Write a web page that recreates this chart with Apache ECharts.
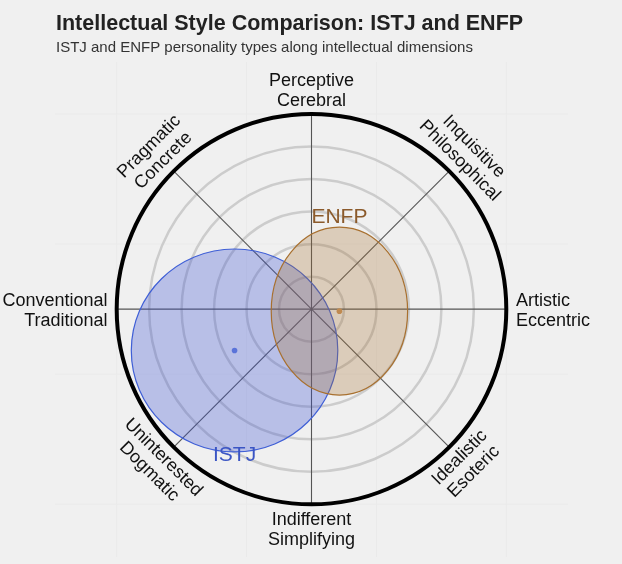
<!DOCTYPE html>
<html>
<head>
<meta charset="utf-8">
<script src="https://cdn.jsdelivr.net/npm/echarts@6/dist/echarts.min.js"></script>
<style>
html,body{margin:0;padding:0;background:#f0f0f0;}
#chart{width:622px;height:564px;}
</style>
</head>
<body>
<div id="chart"></div>
<script>
// ---- data ----
const titleText = 'Intellectual Style Comparison: ISTJ and ENFP';
const subtitleText = 'ISTJ and ENFP personality types along intellectual dimensions';
const axisLabels = ['Artistic\nEccentric', 'Inquisitive\nPhilosophical', 'Perceptive\nCerebral', 'Pragmatic\nConcrete',
                    'Conventional\nTraditional', 'Uninterested\nDogmatic', 'Indifferent\nSimplifying', 'Idealistic\nEsoteric'];
const axisAngles = [0, 45, 90, 135, 180, 225, 270, 315];
const ringRadii = [0.5, 1, 1.5, 2, 2.5];
const outerRadius = [3];
const panelBreaks = [-3, -1, 1, 3];
const types = ['ISTJ', 'ENFP'];
const centerX = [-1.185, 0.43];
const centerY = [-0.635, -0.03];
const spreadX = [1.59, 1.05];
const spreadY = [1.56, 1.29];

// ---- styles ----
const FONT = '"Liberation Sans", Arial, sans-serif';
const fills = ['rgba(57,80,213,0.30)', 'rgba(165,112,45,0.28)'];
const strokes = ['#3f5fd6', '#a8702f'];
const dotColors = ['#5a73d9', '#c08a50'];
const textColors = ['#3b55c4', '#8b5a2b'];
const X_MIN = -3.95, X_MAX = 3.95, Y_MIN = -3.81, Y_MAX = 3.8;

const chart = echarts.init(document.getElementById('chart'));

const option = {
  backgroundColor: '#f0f0f0',
  animation: false,
  title: {
    text: titleText,
    subtext: subtitleText,
    left: 51,
    top: 8,
    itemGap: 5,
    textStyle: { fontFamily: FONT, fontSize: 21.5, fontWeight: 'bold', color: '#222222' },
    subtextStyle: { fontFamily: FONT, fontSize: 15, color: '#333333' }
  },
  grid: { left: 55, right: 54, top: 62, bottom: 7 },
  xAxis: { type: 'value', min: X_MIN, max: X_MAX, show: false },
  yAxis: { type: 'value', min: Y_MIN, max: Y_MAX, show: false },
  series: [
    { // faint panel grid
      type: 'custom', silent: true, z: 1,
      data: panelBreaks.map(b => [b]),
      renderItem: function (params, api) {
        const b = api.value(0);
        const v0 = api.coord([b, Y_MIN]), v1 = api.coord([b, Y_MAX]);
        const h0 = api.coord([X_MIN, b]), h1 = api.coord([X_MAX, b]);
        const st = { stroke: '#eaeaea', lineWidth: 1 };
        return { type: 'group', children: [
          { type: 'line', shape: { x1: v0[0], y1: v0[1], x2: v1[0], y2: v1[1] }, style: st },
          { type: 'line', shape: { x1: h0[0], y1: h0[1], x2: h1[0], y2: h1[1] }, style: st }
        ]};
      }
    },
    { // grey rings
      type: 'custom', silent: true, z: 2,
      data: ringRadii.map(r => [r]),
      renderItem: function (params, api) {
        const r = api.value(0);
        const c = api.coord([0, 0]);
        const s = api.size([r, r]);
        return { type: 'ellipse', shape: { cx: c[0], cy: c[1], rx: s[0], ry: s[1] },
                 style: { fill: 'none', stroke: '#cccccc', lineWidth: 2.5 } };
      }
    },
    { // spokes
      type: 'custom', silent: true, z: 3,
      data: axisAngles.slice(0, 4).map(a => [a]),
      renderItem: function (params, api) {
        const a = api.value(0) * Math.PI / 180;
        const R = outerRadius[0];
        const p0 = api.coord([R * Math.cos(a), R * Math.sin(a)]);
        const p1 = api.coord([-R * Math.cos(a), -R * Math.sin(a)]);
        return { type: 'line', shape: { x1: p0[0], y1: p0[1], x2: p1[0], y2: p1[1] },
                 style: { stroke: '#555555', lineWidth: 1.1 } };
      }
    },
    { // outer circle
      type: 'custom', silent: true, z: 4,
      data: outerRadius.map(r => [r]),
      renderItem: function (params, api) {
        const r = api.value(0);
        const c = api.coord([0, 0]);
        const s = api.size([r, r]);
        return { type: 'ellipse', shape: { cx: c[0], cy: c[1], rx: s[0], ry: s[1] },
                 style: { fill: 'none', stroke: '#000000', lineWidth: 4 } };
      }
    },
    { // axis labels
      type: 'custom', silent: true, z: 5,
      data: axisAngles.map((a, i) => [a, i]),
      renderItem: function (params, api) {
        const deg = api.value(0);
        const idx = api.value(1);
        const a = deg * Math.PI / 180;
        let r = 3.38, align = 'center', rot = 0;
        if (deg === 0) { r = 3.15; align = 'left'; }
        else if (deg === 180) { r = 3.14; align = 'right'; }
        else if (deg === 45 || deg === 225) { rot = -Math.PI / 4; }
        else if (deg === 135 || deg === 315) { rot = Math.PI / 4; }
        const p = api.coord([r * Math.cos(a), r * Math.sin(a)]);
        return { type: 'text', x: p[0], y: p[1] + (rot === 0 ? 1.5 : 0), rotation: rot,
                 style: { text: axisLabels[idx], align: align, verticalAlign: 'middle',
                          font: '18px ' + FONT, fill: '#111111', lineHeight: 20 } };
      }
    },
    { // type ellipses
      type: 'custom', silent: true, z: 6,
      data: types.map((t, i) => [centerX[i], centerY[i], spreadX[i], spreadY[i], i]),
      renderItem: function (params, api) {
        const i = api.value(4);
        const c = api.coord([api.value(0), api.value(1)]);
        const s = api.size([api.value(2), api.value(3)]);
        const labelY = i === 0 ? c[1] + s[1] + 3 : c[1] - s[1] - 10;
        return { type: 'group', children: [
          { type: 'ellipse', shape: { cx: c[0], cy: c[1], rx: s[0], ry: s[1] },
            style: { fill: fills[i], stroke: strokes[i], lineWidth: 1.2 } },
          { type: 'circle', shape: { cx: c[0], cy: c[1], r: 2.8 }, style: { fill: dotColors[i] } },
          { type: 'text', x: c[0], y: labelY,
            style: { text: types[i], align: 'center', verticalAlign: 'middle',
                     font: '21px ' + FONT, fill: textColors[i] } }
        ]};
      }
    }
  ]
};
chart.setOption(option);
</script>
</body>
</html>
